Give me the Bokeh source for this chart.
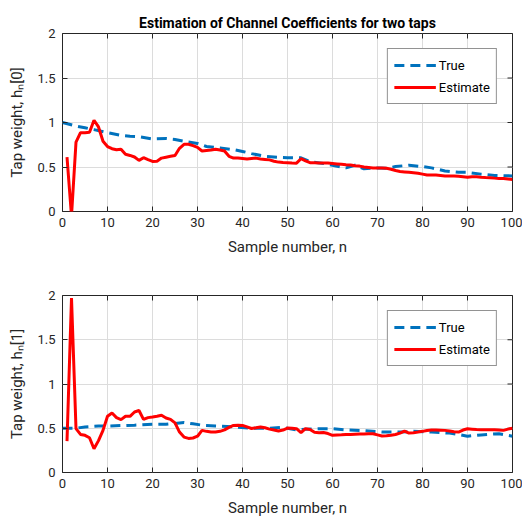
import math
from bokeh.plotting import figure
from bokeh.layouts import column
from bokeh.models import (NumeralTickFormatter, FixedTicker, Range1d,
                          Legend, LegendItem)
from bokeh.embed import file_html
from bokeh.resources import INLINE

# ---------------- data ----------------
n = list(range(1, 101))

est0 = [0.61, -0.05, 0.78, 0.886, 0.886, 0.89, 1.025, 0.95, 0.79, 0.73,
        0.706, 0.694, 0.70, 0.643, 0.63, 0.612, 0.574, 0.604, 0.582, 0.563,
        0.565, 0.60, 0.61, 0.62, 0.63, 0.71, 0.755, 0.755, 0.74, 0.72,
        0.68, 0.685, 0.69, 0.70, 0.69, 0.68, 0.62, 0.60, 0.60, 0.595,
        0.59, 0.595, 0.60, 0.59, 0.585, 0.58, 0.565, 0.555, 0.55, 0.548,
        0.545, 0.543, 0.593, 0.57, 0.548, 0.548, 0.545, 0.545, 0.545, 0.54,
        0.535, 0.53, 0.525, 0.522, 0.515, 0.51, 0.50, 0.495, 0.49, 0.49,
        0.49, 0.485, 0.475, 0.46, 0.45, 0.445, 0.44, 0.435, 0.43, 0.42,
        0.41, 0.41, 0.41, 0.405, 0.40, 0.40, 0.398, 0.395, 0.39, 0.385,
        0.39, 0.39, 0.385, 0.382, 0.38, 0.375, 0.372, 0.37, 0.365, 0.36]

true0_n = [0, 3, 5, 7, 10, 13, 15, 17, 20, 23, 25, 28, 30, 32, 35, 38, 40, 42,
           45, 48, 50, 53, 55, 58, 60, 63, 65, 67, 70, 72, 74, 77, 80, 82, 85,
           88, 90, 93, 96, 100]
true0 = [1.0, 0.96, 0.94, 0.92, 0.885, 0.855, 0.845, 0.84, 0.815, 0.82, 0.81,
         0.78, 0.765, 0.73, 0.715, 0.695, 0.675, 0.65, 0.62, 0.608, 0.605,
         0.603, 0.56, 0.54, 0.52, 0.49, 0.52, 0.48, 0.49, 0.485, 0.505, 0.52,
         0.505, 0.49, 0.455, 0.44, 0.44, 0.42, 0.405, 0.40]

est1 = [0.355, 1.97, 0.495, 0.43, 0.42, 0.393, 0.268, 0.36, 0.476, 0.635,
        0.672, 0.62, 0.597, 0.635, 0.635, 0.684, 0.70, 0.60, 0.62, 0.627,
        0.635, 0.646, 0.616, 0.60, 0.56, 0.457, 0.40, 0.385, 0.39, 0.41,
        0.476, 0.465, 0.457, 0.457, 0.465, 0.482, 0.51, 0.532, 0.535, 0.532,
        0.515, 0.497, 0.505, 0.514, 0.505, 0.49, 0.48, 0.468, 0.48, 0.502,
        0.50, 0.495, 0.45, 0.495, 0.487, 0.455, 0.45, 0.452, 0.44, 0.42,
        0.425, 0.427, 0.43, 0.43, 0.432, 0.434, 0.436, 0.438, 0.438, 0.425,
        0.412, 0.415, 0.422, 0.43, 0.445, 0.468, 0.445, 0.45, 0.457, 0.465,
        0.475, 0.48, 0.48, 0.478, 0.476, 0.47, 0.46, 0.457, 0.48, 0.495,
        0.49, 0.485, 0.484, 0.484, 0.484, 0.484, 0.48, 0.476, 0.49, 0.50]

true1_n = [0, 3, 5, 8, 10, 13, 16, 20, 23, 25, 27, 29, 31, 34, 38, 42, 46, 49,
           52, 54, 57, 60, 63, 67, 71, 75, 78, 82, 86, 88, 90, 93, 97, 100]
true1 = [0.50, 0.50, 0.515, 0.525, 0.525, 0.53, 0.535, 0.545, 0.545, 0.555,
         0.565, 0.55, 0.535, 0.525, 0.515, 0.50, 0.50, 0.51, 0.48, 0.49,
         0.495, 0.495, 0.482, 0.472, 0.457, 0.457, 0.465, 0.457, 0.445, 0.43,
         0.41, 0.425, 0.438, 0.41]

x_ticks = [0, 10, 20, 30, 40, 50, 60, 70, 80, 90, 100]
y_ticks = [0, 0.5, 1, 1.5, 2]
X_MIN, X_MAX = 0, 100
Y_MIN, Y_MAX = 0, 2

title_text = "Estimation of Channel Coefficients for two taps"
x_label = "Sample number, n"
y_labels = ["Tap weight, h\u2099[0]", "Tap weight, h\u2099[1]"]

FONT = "Roboto"
TXT = "#262626"


def make(est, tn, tv, ylab, title=None, border_top=33, frame_h=178, border_bottom=54):
    p = figure(frame_width=450, frame_height=frame_h,
               x_range=Range1d(X_MIN, X_MAX), y_range=Range1d(Y_MIN, Y_MAX),
               output_backend="svg", toolbar_location=None,
               min_border_left=62, min_border_right=10,
               min_border_top=border_top, min_border_bottom=border_bottom,
               background_fill_color="white", border_fill_color="white")
    if title:
        p.title.text = title
        p.title.align = "center"
        p.title.text_font = FONT
        p.title.text_font_size = "14px"
        p.title.text_font_style = "bold"
        p.title.text_color = "black"
        p.title.standoff = 6
    p.outline_line_color = TXT
    p.outline_line_width = 1
    p.outline_line_alpha = 1

    p.xaxis.ticker = FixedTicker(ticks=x_ticks)
    p.yaxis.ticker = FixedTicker(ticks=y_ticks)
    p.yaxis.formatter = NumeralTickFormatter(format="0.[0]")
    for ax in (p.xaxis[0], p.yaxis[0]):
        ax.axis_line_color = None
        ax.major_tick_in = 5
        ax.major_tick_out = 0
        ax.major_tick_line_color = TXT
        ax.minor_tick_line_color = None
        ax.major_label_text_font = FONT
        ax.major_label_text_font_size = "13px"
        ax.major_label_text_color = TXT
        ax.axis_label_text_font = FONT
        ax.axis_label_text_font_size = "15px"
        ax.axis_label_text_font_style = "normal"
        ax.axis_label_text_color = TXT
    p.xaxis.axis_label = x_label
    p.xaxis.major_label_standoff = 6
    p.xaxis.axis_label_standoff = 8
    p.yaxis.axis_label = ylab
    p.yaxis.major_label_standoff = 7
    p.yaxis.axis_label_standoff = 8

    p.grid.grid_line_color = "#dcdcdc"
    p.grid.grid_line_alpha = 1
    p.xgrid.ticker = FixedTicker(ticks=x_ticks)
    p.ygrid.ticker = FixedTicker(ticks=y_ticks)

    # inward ticks on the top and right edges (half of each dash is clipped by the frame)
    p.scatter(x=x_ticks, y=[Y_MAX] * len(x_ticks), marker="dash", size=10,
              angle=math.pi / 2, line_color=TXT, line_width=1)
    p.scatter(x=[X_MAX] * len(y_ticks), y=y_ticks, marker="dash", size=10,
              line_color=TXT, line_width=1)

    r_true = p.line(tn, tv, line_color="#0072BD", line_width=3, line_dash="10 6")
    r_est = p.line(n, est, line_color="#FF0000", line_width=3)

    leg = Legend(items=[LegendItem(label="True", renderers=[r_true]),
                        LegendItem(label="Estimate", renderers=[r_est])],
                 location="top_right")
    leg.margin = 15
    leg.padding = 6
    leg.spacing = 2
    leg.glyph_width = 42
    leg.glyph_height = 20
    leg.label_height = 20
    leg.label_standoff = 3
    leg.label_text_font = FONT
    leg.label_text_font_size = "13px"
    leg.label_text_color = "black"
    leg.border_line_color = TXT
    leg.border_line_width = 1
    leg.background_fill_color = "white"
    leg.background_fill_alpha = 1
    p.add_layout(leg)
    return p


p1 = make(est0, true0_n, true0, y_labels[0], title=title_text,
          border_top=33, frame_h=178, border_bottom=54)
p2 = make(est1, true1_n, true1, y_labels[1], title=None,
          border_top=30, frame_h=177, border_bottom=58)

layout = column(p1, p2, spacing=0)
open("out.html", "w").write(file_html(layout, INLINE))
